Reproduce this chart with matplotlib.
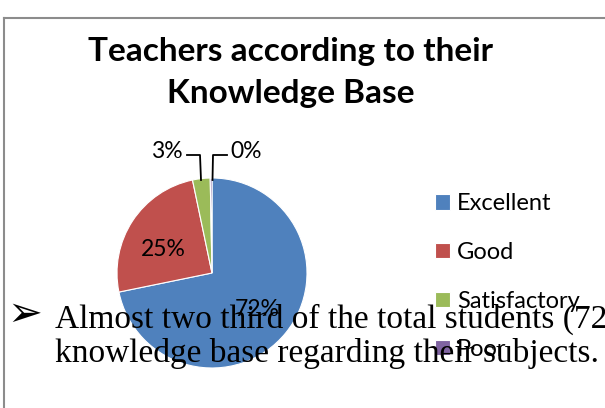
import matplotlib
matplotlib.use("Agg")
import matplotlib.pyplot as plt
from matplotlib.lines import Line2D
import numpy as np

categories = ["Excellent", "Good", "Satisfactory", "Poor"]
values = [72, 25, 3, 0.3]
labels_pct = ["72%", "25%", "3%", "0%"]
colors = ["#4F81BD", "#C0504D", "#9BBB59", "#8064A2"]
title_lines = ["Teachers according to their", "Knowledge Base"]
overlay_line1 = "Almost two third of the total students (72%) have excellent"
overlay_line2 = "knowledge base regarding their subjects."

W, H = 605, 408
fig = plt.figure(figsize=(W / 100, H / 100), dpi=100)
fig.patch.set_facecolor("white")

def px(x, y):
    return x / W, 1 - y / H

# chart frame (extends beyond right/bottom)
fig.add_artist(Line2D([3.5 / W, 3.5 / W], [0, 1 - 17.5 / H], transform=fig.transFigure,
                      color="#8c8c8c", lw=1.5))
fig.add_artist(Line2D([3.5 / W, 1], [1 - 17.5 / H, 1 - 17.5 / H], transform=fig.transFigure,
                      color="#8c8c8c", lw=1.5))

# title
fig.text(*px(290, 61), title_lines[0], ha="center", va="baseline",
         fontsize=24, fontweight="bold", family="Lato")
fig.text(*px(291, 103), title_lines[1], ha="center", va="baseline",
         fontsize=24, fontweight="bold", family="Lato")

# pie
cx, cy, r = 212, 273, 95
ax = fig.add_axes([(cx - r) / W, (H - cy - r) / H, 2 * r / W, 2 * r / H])
wedges, _ = ax.pie(values, colors=colors, startangle=90, counterclock=False,
                   wedgeprops=dict(linewidth=0.8, edgecolor="white"))
ax.set_xlim(-1, 1)
ax.set_ylim(-1, 1)
ax.set_aspect("auto")
ax.axis("off")

tot = sum(values)
ang = 90.0
mids = []
for v in values:
    mids.append(np.deg2rad(ang - v / tot * 360 / 2))
    ang -= v / tot * 360
FS = 16.5
ax.text(0.61 * np.cos(mids[0]), 0.61 * np.sin(mids[0]), labels_pct[0],
        ha="center", va="center", fontsize=FS, family="Lato", color="black")
fig.text(*px(163, 249), labels_pct[1], ha="center", va="center", fontsize=FS, family="Lato")

# outside labels with leader lines
fig.text(*px(167, 151), labels_pct[2], ha="center", va="center", fontsize=FS, family="Lato")
fig.text(*px(246, 151), labels_pct[3], ha="center", va="center", fontsize=FS, family="Lato")
fig.add_artist(Line2D([187 / W, 200 / W, 201 / W], [1 - 155 / H, 1 - 155 / H, 1 - 180 / H],
                      transform=fig.transFigure, color="black", lw=1.3))
fig.add_artist(Line2D([227 / W, 213 / W, 212.5 / W], [1 - 155 / H, 1 - 155 / H, 1 - 180 / H],
                      transform=fig.transFigure, color="black", lw=1.3))

# legend
leg = fig.legend(wedges, categories, loc="upper left", bbox_to_anchor=px(414, 172),
                 frameon=False, handlelength=0.62, handleheight=0.62,
                 handletextpad=0.3, labelspacing=1.17, prop=dict(family="Lato", size=17))

# overlay document text
fig.text(*px(7, 326), "\u27A2", fontsize=30, family="DejaVu Sans", va="baseline", zorder=10)
fig.text(*px(55, 328), overlay_line1, fontsize=24, family="Liberation Serif",
         va="baseline", zorder=10)
fig.text(*px(55, 362), overlay_line2, fontsize=24, family="Liberation Serif",
         va="baseline", zorder=10)

fig.savefig("out.png", dpi=100)
